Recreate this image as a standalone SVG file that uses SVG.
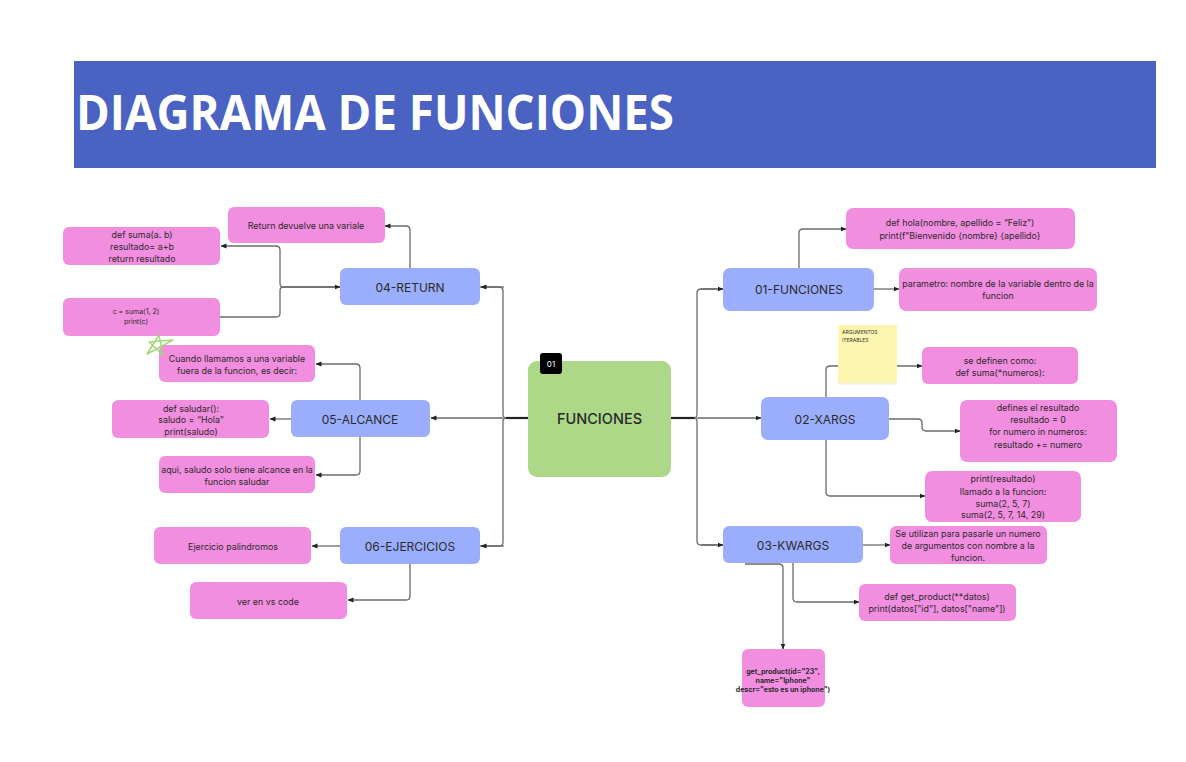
<svg xmlns="http://www.w3.org/2000/svg" width="1186" height="762" viewBox="0 0 1186 762">
<defs>
<marker id="ah" markerUnits="userSpaceOnUse" markerWidth="6" markerHeight="6" refX="5.5" refY="3" orient="auto">
<path d="M0,0.5 L6,3 L0,5.5 z" fill="#222"/>
</marker>
<style>
.c{fill:none;stroke:#6b6b6b;stroke-width:1.3}
.k{fill:none;stroke:#222;stroke-width:2.2}
.blue{fill:#9aaefd}
.pink{fill:#f28ee0}
.t{font-family:Inter,"Noto Sans",sans-serif;fill:#2a2a2a;text-anchor:middle;dominant-baseline:central}
.b{font-size:12px}
.p{font-size:8.9px}
</style>
</defs>
<rect width="1186" height="762" fill="#ffffff"/>
<g id="title">
<rect x="74" y="61" width="1082" height="107" fill="#4a62c2"/>
<text x="76" y="130" font-family="'Open Sans',sans-serif" font-weight="700" font-size="49" fill="#ffffff" textLength="598" lengthAdjust="spacingAndGlyphs">DIAGRAMA DE FUNCIONES</text>
</g>
<g id="connectors">
<path class="k" d="M528,418 H506"/>
<path class="k" d="M671,418 H695"/>
<path class="c" d="M480,287 H499 Q503,287 503,291 V414 Q503,418 506,418"/>
<path class="c" d="M480,546 H499 Q503,546 503,542 V422 Q503,418 506,418"/>
<path class="c" d="M503,418 H431" marker-end="url(#ah)"/>
<path class="c" d="M504,546 H481" marker-end="url(#ah)"/>
<path class="c" d="M504,287 H481" marker-end="url(#ah)"/>
<path class="c" d="M723,289 H701 Q697,289 697,293 V414 Q697,418 694,418"/>
<path class="c" d="M723,545 H701 Q697,545 697,541 V422 Q697,418 694,418"/>
<path class="c" d="M697,418 H761" marker-end="url(#ah)"/>
<path class="c" d="M701,289 H723" marker-end="url(#ah)"/>
<path class="c" d="M701,545 H723" marker-end="url(#ah)"/>
<path class="c" d="M410,268 V230 Q410,226 406,226 H385" marker-end="url(#ah)"/>
<path class="c" d="M340,287 H283 Q280,287 280,283 V250 Q280,246 276,246 H221" marker-end="url(#ah)"/>
<path class="c" d="M283,287 Q280,287 280,291 V313 Q280,317 276,317 H220"/>
<path class="c" d="M283,287 H340" marker-end="url(#ah)"/>
<path class="c" d="M360,400 V368 Q360,364 356,364 H316" marker-end="url(#ah)"/>
<path class="c" d="M360,437 V471 Q360,475 356,475 H316" marker-end="url(#ah)"/>
<path class="c" d="M291,419 H270" marker-end="url(#ah)"/>
<path class="c" d="M340,546 H312" marker-end="url(#ah)"/>
<path class="c" d="M410,564 V596 Q410,600 406,600 H348" marker-end="url(#ah)"/>
<path class="c" d="M799,268 V233 Q799,229 803,229 H846" marker-end="url(#ah)"/>
<path class="c" d="M874,289 H899" marker-end="url(#ah)"/>
<path class="c" d="M826,397 V370 Q826,366 830,366 H922" marker-end="url(#ah)"/>
<path class="c" d="M889,419 H918 Q922,419 922,423 V427 Q922,431 926,431 H960" marker-end="url(#ah)"/>
<path class="c" d="M826,440 V492 Q826,496 830,496 H925" marker-end="url(#ah)"/>
<path class="c" d="M863,545 H890" marker-end="url(#ah)"/>
<path class="c" d="M793,563 V598 Q793,602 797,602 H859" marker-end="url(#ah)"/>
<path class="c" d="M745,564 H779 Q783,564 783,568 V649" marker-end="url(#ah)"/>
</g>
<g id="n-center">
<rect x="528" y="361" width="143" height="116" rx="9" fill="#acd888"/>
<rect x="540" y="353" width="22" height="21" rx="3" fill="#000"/>
<text x="551" y="363.5" font-family="Inter,sans-serif" font-size="8" fill="#fff" text-anchor="middle" dominant-baseline="central">01</text>
<text class="t" x="599.5" y="418" font-size="14.5" font-weight="500" fill="#111">FUNCIONES</text>
</g>
<g id="n-return">
<rect class="blue" x="340" y="268" width="140" height="37" rx="6"/>
<text class="t b" x="410" y="287">04-RETURN</text>
</g>
<g id="n-alcance">
<rect class="blue" x="291" y="400" width="139" height="37" rx="6"/>
<text class="t b" x="360" y="419">05-ALCANCE</text>
</g>
<g id="n-ejercicios">
<rect class="blue" x="340" y="527" width="140" height="37" rx="6"/>
<text class="t b" x="410" y="546">06-EJERCICIOS</text>
</g>
<g id="n-funciones">
<rect class="blue" x="723" y="268" width="151" height="43" rx="7"/>
<text class="t b" x="799" y="289">01-FUNCIONES</text>
</g>
<g id="n-xargs">
<rect class="blue" x="761" y="397" width="128" height="43" rx="7"/>
<text class="t b" x="825" y="419">02-XARGS</text>
</g>
<g id="n-kwargs">
<rect class="blue" x="723" y="526" width="140" height="37" rx="6"/>
<text class="t b" x="793" y="545">03-KWARGS</text>
</g>
<g id="n-return-devuelve">
<rect class="pink" x="228" y="207" width="157" height="36" rx="6"/>
<text class="t p" x="306" y="225">Return devuelve una variale</text>
</g>
<g id="n-def-suma">
<rect class="pink" x="63" y="227" width="157" height="38" rx="6"/>
<text class="t p" x="142" y="234">def suma(a. b)</text>
<text class="t p" x="142" y="246">resultado= a+b</text>
<text class="t p" x="142" y="258">return resultado</text>
</g>
<g id="n-c-suma">
<rect class="pink" x="63" y="298" width="157" height="38" rx="6"/>
<text class="t" font-size="7" x="136" y="311">c = suma(1, 2)</text>
<text class="t" font-size="7" x="136" y="321">print(c)</text>
</g>
<g id="n-cuando">
<rect class="pink" x="159" y="345" width="156" height="37" rx="6"/>
<text class="t p" x="237" y="358">Cuando llamamos a una variable</text>
<text class="t p" x="237" y="370">fuera de la funcion, es decir:</text>
</g>
<g id="star">
<path d="M147,354 L159,335 L163,355 L149,342 L173,340 Z" fill="none" stroke="#a3d977" stroke-width="1.5" stroke-linejoin="round"/>
</g>
<g id="n-saludar">
<rect class="pink" x="112" y="400" width="157" height="38" rx="6"/>
<text class="t p" x="191" y="408">def saludar():</text>
<text class="t p" x="191" y="419.5">saludo = “Hola”</text>
<text class="t p" x="191" y="431">print(saludo)</text>
</g>
<g id="n-aqui">
<rect class="pink" x="159" y="456" width="156" height="37" rx="6"/>
<text class="t p" x="237" y="469">aqui, saludo solo tiene alcance en la</text>
<text class="t p" x="237" y="481">funcion saludar</text>
</g>
<g id="n-palindromos">
<rect class="pink" x="154" y="527" width="157" height="37" rx="6"/>
<text class="t p" x="233" y="546">Ejercicio palindromos</text>
</g>
<g id="n-vscode">
<rect class="pink" x="190" y="582" width="157" height="37" rx="6"/>
<text class="t p" x="268" y="601">ver en vs code</text>
</g>
<g id="n-hola">
<rect class="pink" x="846" y="208" width="229" height="41" rx="7"/>
<text class="t p" x="960" y="222">def hola(nombre, apellido = “Feliz”)</text>
<text class="t p" x="960" y="235">print(f"Bienvenido {nombre} {apellido}</text>
</g>
<g id="n-parametro">
<rect class="pink" x="899" y="268" width="198" height="43" rx="7"/>
<text class="t p" x="998" y="283">parametro: nombre de la variable dentro de la</text>
<text class="t p" x="998" y="295">funcion</text>
</g>
<g id="n-sticky">
<rect x="838" y="325" width="59" height="58" fill="#fdf6b0"/>
<rect x="838" y="383" width="59" height="1.5" fill="#eeeeee"/>
<text x="842" y="334" font-family="Inter,sans-serif" font-size="5" fill="#333">ARGUMENTOS</text>
<text x="842" y="342" font-family="Inter,sans-serif" font-size="5" fill="#333">ITERABLES</text>
</g>
<g id="n-definen">
<rect class="pink" x="922" y="347" width="156" height="37" rx="6"/>
<text class="t p" x="1000" y="360">se definen como:</text>
<text class="t p" x="1000" y="372">def suma(*numeros):</text>
</g>
<g id="n-defines">
<rect class="pink" x="960" y="400" width="157" height="62" rx="7"/>
<text class="t p" x="1038" y="407">defines el resultado</text>
<text class="t p" x="1038" y="419">resultado = 0</text>
<text class="t p" x="1038" y="431">for numero in numeros:</text>
<text class="t p" x="1038" y="444">resultado += numero</text>
</g>
<g id="n-print-resultado">
<rect class="pink" x="925" y="471" width="156" height="51" rx="7"/>
<text class="t p" x="1003" y="478">print(resultado)</text>
<text class="t p" x="1003" y="491">llamado a la funcion:</text>
<text class="t p" x="1003" y="503">suma(2, 5, 7)</text>
<text class="t p" x="1003" y="514">suma(2, 5, 7, 14, 29)</text>
</g>
<g id="n-utilizan">
<rect class="pink" x="890" y="526" width="157" height="38" rx="6"/>
<text class="t p" x="968" y="533">Se utilizan para pasarle un numero</text>
<text class="t p" x="968" y="545">de argumentos con nombre a la</text>
<text class="t p" x="968" y="557">funcion.</text>
</g>
<g id="n-get-product">
<rect class="pink" x="859" y="584" width="157" height="37" rx="6"/>
<text class="t p" x="937" y="596">def get_product(**datos)</text>
<text class="t p" x="937" y="608">print(datos["id"], datos["name"])</text>
</g>
<g id="n-get-product-call">
<rect class="pink" x="742" y="649" width="83" height="58" rx="6"/>
<text class="t" font-size="7" font-weight="700" x="783" y="671">get_product(id="23",</text>
<text class="t" font-size="7" font-weight="700" x="783" y="680">name="Iphone"</text>
<text class="t" font-size="7" font-weight="700" x="783" y="689">descr="esto es un iphone")</text>
</g>
</svg>
